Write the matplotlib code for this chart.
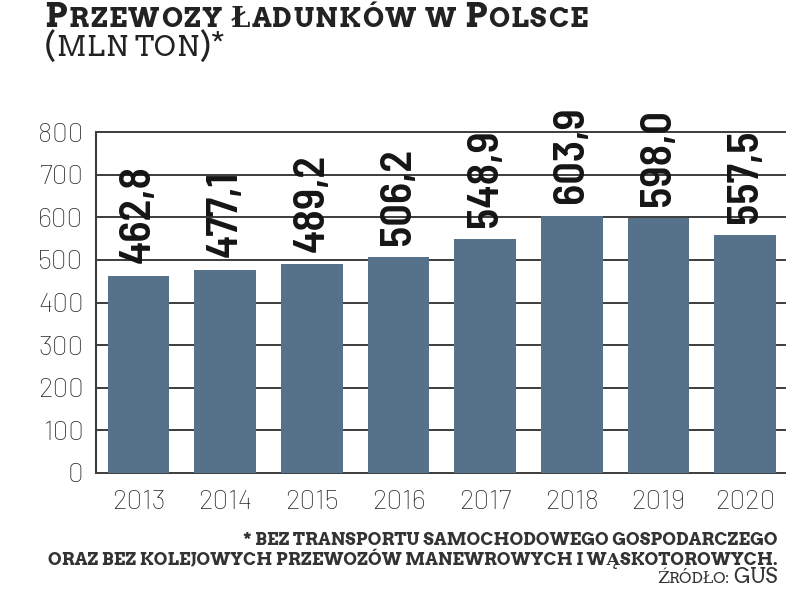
import matplotlib
matplotlib.use('Agg')
import matplotlib.pyplot as plt
from matplotlib.transforms import IdentityTransform

years = ['2013', '2014', '2015', '2016', '2017', '2018', '2019', '2020']
values = [462.8, 477.1, 489.2, 506.2, 548.9, 603.9, 598.0, 557.5]
yticks = [0, 100, 200, 300, 400, 500, 600, 700, 800]

# (text, size, weight)
title_runs = [('P', 24, 'bold'), ('RZEWOZY ŁADUNKÓW W ', 19.5, 'bold'),
              ('P', 24, 'bold'), ('OLSCE', 19.5, 'bold')]
subtitle_runs = [('(', 24, 'normal'), ('MLN TON', 20, 'normal'), (')*', 24, 'normal')]
# (text, relative size, weight) - fitted to the reference width
note1 = [('* BEZ TRANSPORTU SAMOCHODOWEGO GOSPODARCZEGO', 1.0, 'bold')]
note2 = [('ORAZ BEZ KOLEJOWYCH PRZEWOZÓW MANEWROWYCH I WĄSKOTOROWYCH.', 1.0, 'bold')]
note3 = [('Ź', 1.1, 'normal'), ('RÓDŁO: ', 1.0, 'normal'), ('GUS', 1.3, 'normal')]

W, H = 801, 593
bar_color = '#56718a'
line_color = '#3c3c3c'
narrow = ['Barlow Semi Condensed', 'DejaVu Sans']
ticks_font = ['Barlow', 'DejaVu Sans']
slab = ['Arvo', 'DejaVu Serif']

fig = plt.figure(figsize=(W / 100, H / 100), dpi=100)
renderer = fig.canvas.get_renderer()

ax = fig.add_axes([96 / W, 1 - 473 / H, (785 - 96) / W, (473 - 132) / H])
x = range(len(years))
ax.bar(x, values, width=0.71, color=bar_color, zorder=3)
ax.set_xlim(-0.49, 7.46)
ax.set_ylim(0, 800)
ax.set_yticks(yticks)
ax.set_xticks(list(x))
ax.set_xticklabels(years)
ax.yaxis.grid(True, color=line_color, linewidth=1.4, zorder=0)
for gl in ax.get_ygridlines():
    gl.set_clip_on(False)
for s in ['top', 'right', 'bottom']:
    ax.spines[s].set_visible(False)
ax.spines['left'].set_color(line_color)
ax.spines['left'].set_linewidth(1.5)
ax.tick_params(axis='both', length=0, labelsize=20, labelcolor='#2a2a2a')
ax.tick_params(axis='y', pad=9)
ax.tick_params(axis='x', pad=12)
for lab in ax.get_xticklabels() + ax.get_yticklabels():
    lab.set_family(ticks_font)
    lab.set_fontweight('light')

for i, v in enumerate(values):
    ax.annotate(f'{v:.1f}'.replace('.', ','), (i, v), xytext=(0, 9),
                textcoords='offset points', rotation=90, ha='center', va='bottom',
                fontsize=32, fontweight='semibold', family=narrow, color='#151515',
                zorder=5, annotation_clip=False)


def width_of(s, size, weight):
    t = fig.text(0, 0, s + 'H', fontsize=size, fontweight=weight, family=slab,
                 transform=IdentityTransform())
    w1 = t.get_window_extent(renderer).width
    t.set_text('H')
    w0 = t.get_window_extent(renderer).width
    t.remove()
    return w1 - w0


def put_runs(runs, x0, x1, ybase, color='#222222'):
    # scale the run sizes so the line spans x0..x1 like in the reference
    base = 10.0
    total = sum(width_of(s, base * r, wt) for s, r, wt in runs)
    base *= (x1 - x0) / total
    cx = x0
    for s, r, wt in runs:
        fig.text(cx, H - ybase, s, fontsize=base * r, fontweight=wt, family=slab,
                 color=color, transform=IdentityTransform(), va='baseline')
        cx += width_of(s, base * r, wt)


def put_tracked(runs, x0, x1, ybase, color='#222222'):
    # fixed sizes, letter spacing stretched to span x0..x1
    chars = [(ch, sz, wt) for s, sz, wt in runs for ch in s]
    adv = [width_of(ch, sz, wt) for ch, sz, wt in chars]
    extra = (x1 - x0 - sum(adv)) / (len(chars) - 1)
    cx = x0
    for (ch, sz, wt), a in zip(chars, adv):
        fig.text(cx, H - ybase, ch, fontsize=sz, fontweight=wt, family=slab,
                 color=color, transform=IdentityTransform(), va='baseline')
        cx += a + extra


put_tracked(title_runs, 44, 588, 27)
put_tracked(subtitle_runs, 44, 225, 56)
put_runs(note1, 243, 778, 545, color='#333333')
put_runs(note2, 48, 778, 565, color='#333333')
put_runs(note3, 657, 778, 583, color='#333333')

fig.savefig('out.png', dpi=100)
